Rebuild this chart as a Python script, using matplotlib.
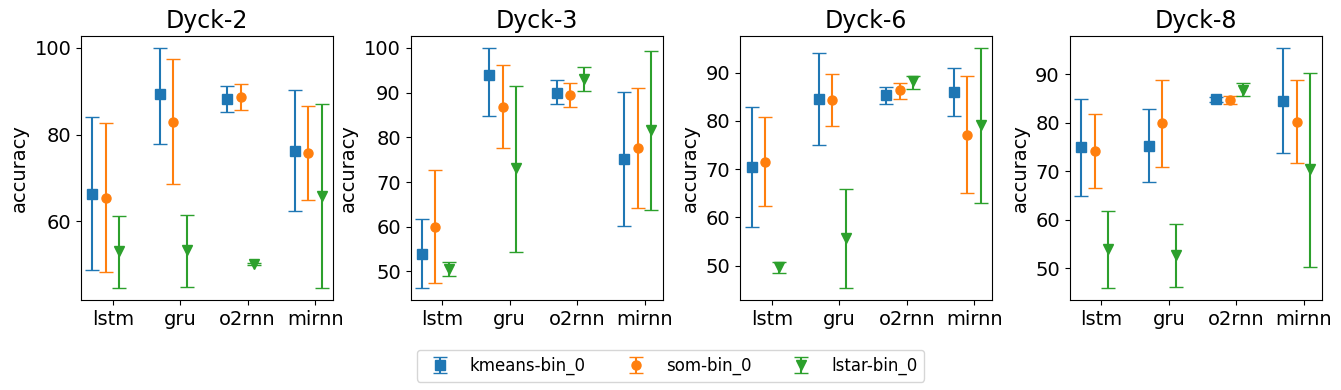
import matplotlib
matplotlib.use("Agg")
import matplotlib.pyplot as plt

models = ["lstm", "gru", "o2rnn", "mirnn"]
titles = ["Dyck-2", "Dyck-3", "Dyck-6", "Dyck-8"]
methods = ["kmeans-bin_0", "som-bin_0", "lstar-bin_0"]

# mean / lower / upper accuracy, one row per method, per dataset
dyck2_mean = [[66.3, 89.4, 88.2, 76.2], [65.4, 82.9, 88.7, 75.8], [53.1, 53.3, 50.2, 65.9]]
dyck2_low = [[48.8, 77.8, 85.2, 62.4], [48.3, 68.7, 85.7, 64.9], [44.6, 44.8, 50.0, 44.6]]
dyck2_high = [[84.1, 100.0, 91.2, 90.2], [82.7, 97.5, 91.7, 86.5], [61.2, 61.4, 50.4, 87.1]]

dyck3_mean = [[53.9, 93.9, 90.0, 75.1], [59.9, 86.8, 89.4, 77.6], [50.6, 73.2, 93.1, 81.7]]
dyck3_low = [[46.3, 84.8, 87.5, 60.2], [47.5, 77.6, 86.8, 64.2], [49.0, 54.4, 90.4, 63.8]]
dyck3_high = [[61.8, 100.0, 92.8, 90.2], [72.7, 96.2, 92.2, 91.0], [52.2, 91.5, 95.8, 99.3]]

dyck6_mean = [[70.4, 84.5, 85.4, 86.0], [71.5, 84.3, 86.3, 77.1], [49.8, 55.7, 88.2, 79.1]]
dyck6_low = [[58.0, 75.0, 83.5, 81.0], [62.3, 78.9, 84.5, 65.1], [48.5, 45.4, 86.7, 63.0]]
dyck6_high = [[82.8, 94.1, 87.0, 91.0], [80.9, 89.7, 87.9, 89.2], [50.8, 65.9, 89.3, 95.1]]

dyck8_mean = [[74.9, 75.2, 84.8, 84.4], [74.1, 79.9, 84.7, 80.2], [53.9, 52.8, 86.8, 70.4]]
dyck8_low = [[64.8, 67.7, 84.2, 73.7], [66.5, 70.8, 83.8, 71.6], [45.9, 46.2, 85.4, 50.2]]
dyck8_high = [[84.8, 82.9, 85.3, 95.4], [81.8, 88.9, 85.5, 88.9], [61.8, 59.1, 88.1, 90.3]]

datasets = [
    (dyck2_mean, dyck2_low, dyck2_high),
    (dyck3_mean, dyck3_low, dyck3_high),
    (dyck6_mean, dyck6_low, dyck6_high),
    (dyck8_mean, dyck8_low, dyck8_high),
]

markers = ["s", "o", "v"]
colors = ["tab:blue", "tab:orange", "tab:green"]

fig, axes = plt.subplots(1, 4, figsize=(13.41, 3.9), dpi=100)
fig.subplots_adjust(left=0.0604, right=0.9858, top=0.9077, bottom=0.2308, wspace=0.3056)

handles = []
for ax, title, (mean, low, high) in zip(axes, titles, datasets):
    for j, method in enumerate(methods):
        xs = [i + (j - 1.5) * 0.2 for i in range(len(models))]
        yerr = [[m - l for m, l in zip(mean[j], low[j])],
                [h - m for m, h in zip(mean[j], high[j])]]
        h = ax.errorbar(xs, mean[j], yerr=yerr, fmt=markers[j], color=colors[j],
                        capsize=5, markersize=6.5, label=method)
        if ax is axes[0]:
            handles.append(h)
    ax.set_xticks(range(len(models)))
    ax.set_xticklabels(models, fontsize=14)
    ax.tick_params(axis="y", labelsize=14)
    ax.set_ylabel("accuracy", fontsize=14)
    ax.set_title(title, fontsize=17)

fig.legend(handles, methods, loc="lower center", ncol=3, fontsize=12,
           bbox_to_anchor=(0.5, 0.0), columnspacing=2.0)

fig.savefig("out.png", dpi=100)
